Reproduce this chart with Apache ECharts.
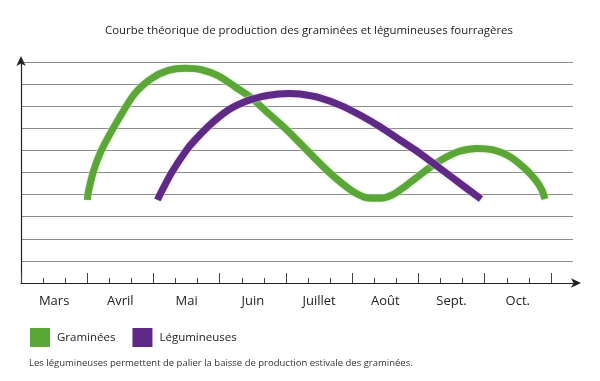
<!DOCTYPE html>
<html>
<head>
<meta charset="utf-8">
<script src="https://cdn.jsdelivr.net/npm/echarts@6/dist/echarts.min.js"></script>
<style>
html,body{margin:0;padding:0;background:#fff;}
#c{width:600px;height:381px;}
</style>
</head>
<body>
<div id="c"></div>
<script>
// x unit: décade (10-day period) counted from 1 March; y unit: relative production
const months = ['Mars', 'Avril', 'Mai', 'Juin', 'Juillet', 'Août', 'Sept.', 'Oct.'];
const monthLabelPos = [1.5, 4.5, 7.5, 10.5, 13.5, 16.5, 19.5, 22.5];
const majorTicks = [0, 3, 6, 9, 12, 15, 18, 21, 24];
const minorTicks = [1, 2, 4, 5, 7, 8, 10, 11, 13, 14, 16, 17, 19, 20, 22, 23];

const graminees = [
  [3.01, 3.76], [3.03, 4.01], [3.27, 5.01], [3.65, 6.02],
  [4.48, 7.52], [5.16, 8.58], [5.92, 9.26], [6.67, 9.62], [7.43, 9.72],
  [8.18, 9.65], [8.94, 9.37], [9.69, 8.88], [10.45, 8.36], [11.20, 7.68],
  [11.96, 7.00], [12.64, 6.32], [13.24, 5.71], [13.85, 5.11], [14.45, 4.58],
  [15.05, 4.13], [15.66, 3.86], [16.26, 3.83], [16.86, 4.01], [17.47, 4.43],
  [18.07, 4.89], [18.67, 5.34], [19.28, 5.71], [19.88, 5.97], [20.64, 6.09],
  [21.39, 6.02], [22.15, 5.71], [22.90, 5.11], [23.32, 4.64], [23.59, 4.21],
  [23.73, 3.80]
];
const legumineuses = [
  [6.18, 3.76], [6.30, 4.01], [6.83, 5.01], [7.50, 6.02], [7.88, 6.47],
  [8.64, 7.23], [9.39, 7.83], [10.14, 8.20], [10.90, 8.43], [11.65, 8.55],
  [12.14, 8.58], [12.64, 8.55], [13.54, 8.38], [14.45, 8.05], [15.35, 7.60],
  [16.26, 7.07], [17.16, 6.47], [18.07, 5.87], [18.97, 5.19], [19.88, 4.51],
  [20.83, 3.80]
];

const GREEN = '#5aa637';
const PURPLE = '#5f2a86';
const FONT = '"Open Sans", "DejaVu Sans", sans-serif';

const chart = echarts.init(document.getElementById('c'), null, {renderer: 'canvas'});
chart.setOption({
  backgroundColor: '#ffffff',
  animation: false,
  title: [
    {
      text: 'Courbe théorique de production des graminées et légumineuses fourragères',
      left: 304, top: 20, textAlign: 'center',
      textStyle: {fontFamily: FONT, fontSize: 11.4, fontWeight: 'normal', color: '#222'}
    },
    {
      text: 'Les légumineuses permettent de palier la baisse de production estivale des graminées.',
      left: 24, top: 353,
      textStyle: {fontFamily: FONT, fontSize: 9.5, fontWeight: 'normal', color: '#333'}
    }
  ],
  legend: {
    left: 25, top: 323,
    icon: 'rect', itemWidth: 20, itemHeight: 19, itemGap: 17,
    textStyle: {fontFamily: FONT, fontSize: 11.5, color: '#222', padding: [0, 0, 0, 2]},
    data: ['Graminées', 'Légumineuses']
  },
  grid: {left: 21, top: 62, width: 552, height: 221, containLabel: false},
  xAxis: [
    {
      type: 'value', min: 0, max: 25, position: 'bottom',
      axisLine: {show: true, lineStyle: {color: '#222', width: 1.2},
        symbol: ['none', 'arrow'], symbolSize: [7, 10], symbolOffset: [0, 8]},
      axisTick: {show: true, inside: true, length: 10, customValues: majorTicks,
        lineStyle: {color: '#444', width: 1}},
      axisLabel: {show: true, customValues: monthLabelPos, margin: 12,
        fontFamily: FONT, fontSize: 13, color: '#222',
        formatter: function (v) { return months[Math.round((v - 1.5) / 3)]; }},
      splitLine: {show: false}
    },
    {
      type: 'value', min: 0, max: 25, position: 'bottom',
      axisLine: {show: false},
      axisTick: {show: true, inside: true, length: 5, customValues: minorTicks,
        lineStyle: {color: '#444', width: 1}},
      axisLabel: {show: false},
      splitLine: {show: false}
    }
  ],
  yAxis: {
    type: 'value', min: 0, max: 10, interval: 1,
    axisLine: {show: true, lineStyle: {color: '#222', width: 1.2},
      symbol: ['none', 'arrow'], symbolSize: [7, 10], symbolOffset: [0, 6]},
    axisTick: {show: false},
    axisLabel: {show: false},
    splitLine: {show: true, lineStyle: {color: '#8c8c8c', width: 1}}
  },
  series: [
    {
      name: 'Graminées', type: 'line', data: graminees, smooth: 0.3,
      showSymbol: false, symbol: 'none', color: GREEN,
      lineStyle: {width: 7, color: GREEN, cap: 'butt',
        shadowColor: 'rgba(200,232,180,1)', shadowBlur: 3}
    },
    {
      name: 'Légumineuses', type: 'line', data: legumineuses, smooth: 0.3,
      showSymbol: false, symbol: 'none', color: PURPLE,
      lineStyle: {width: 7, color: PURPLE, cap: 'butt',
        shadowColor: 'rgba(225,205,235,1)', shadowBlur: 3}
    }
  ]
});
</script>
</body>
</html>
